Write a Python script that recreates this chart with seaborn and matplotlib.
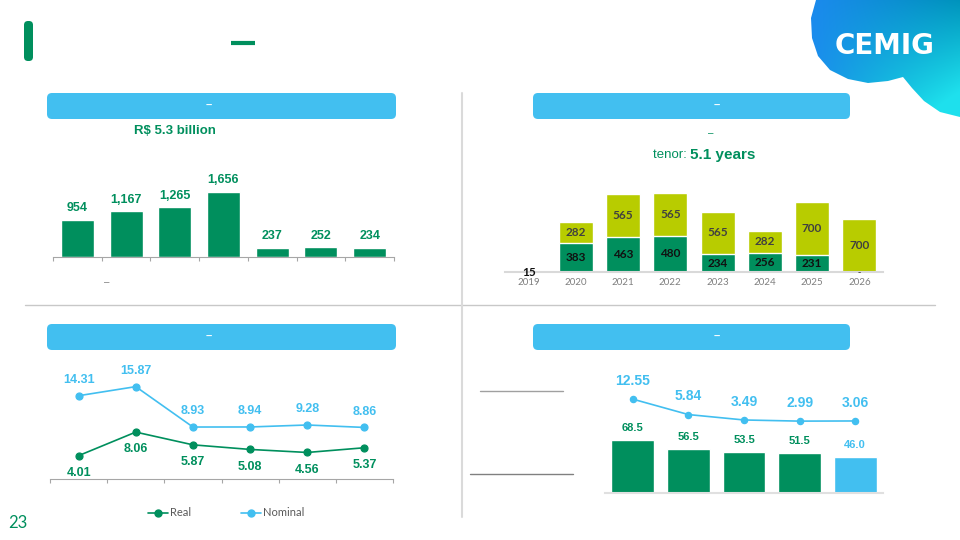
import numpy as np
import pandas as pd
import matplotlib
matplotlib.use("Agg")
import matplotlib.pyplot as plt
import seaborn as sns
from matplotlib.patches import FancyBboxPatch, Polygon
from matplotlib.lines import Line2D

# ---- data ----
# top-left: bars (category names are not shown in the slide)
tl_cats = ["2016", "2017", "2018", "2019", "2020", "2021", "2022"]
tl_vals = [954, 1167, 1265, 1656, 237, 252, 234]

# top-right: amortization schedule, stacked
tr_years = ["2019", "2020", "2021", "2022", "2023", "2024", "2025", "2026"]
tr_green = [15, 383, 463, 480, 234, 256, 231, 0]
tr_yellow = [0, 282, 565, 565, 565, 282, 700, 700]

# bottom-left: cost of debt, real vs nominal
bl_periods = ["2017", "2018", "2019", "2020", "2021", "2022"]
bl_real = [4.01, 8.06, 5.87, 5.08, 4.56, 5.37]
bl_nominal = [14.31, 15.87, 8.93, 8.94, 9.28, 8.86]

# bottom-right: bars + line on second axis
br_cats = ["2018", "2019", "2020", "2021", "2022"]
br_bars = [68.5, 56.5, 53.5, 51.5, 46.0]
br_line = [12.55, 5.84, 3.49, 2.99, 3.06]

GREEN = "#008F5D"
YELLOW = "#B8CC00"
BLUE = "#42BFF0"
GRAY = "#A6A6A6"

sns.set_style("white")
plt.rcParams["font.family"] = ["Liberation Sans", "DejaVu Sans"]

W, H = 960, 540
fig = plt.figure(figsize=(9.6, 5.4), dpi=100, facecolor="white")


def px_axes(x0, y0, x1, y1):
    ax = fig.add_axes([x0 / W, 1 - y1 / H, (x1 - x0) / W, (y1 - y0) / H])
    ax.set_facecolor("none")
    return ax


# ---- background / slide decorations ----
bg = fig.add_axes([0, 0, 1, 1])
bg.set_xlim(0, W)
bg.set_ylim(H, 0)
bg.axis("off")

# title marker and dash
bg.add_patch(FancyBboxPatch((24, 21), 9, 40, boxstyle="round,pad=0,rounding_size=4",
                            fc=GREEN, ec="none"))
bg.plot([231, 255], [43, 43], color=GREEN, lw=3, solid_capstyle="butt")

# logo blob with gradient
blob = [(816, 0), (811, 18), (812, 38), (818, 56), (830, 70), (848, 79), (868, 83),
        (888, 81), (903, 77), (912, 88), (924, 101), (940, 112), (960, 117), (960, 0)]
poly = Polygon(blob, closed=True, fc="none", ec="none")
bg.add_patch(poly)
u = np.linspace(0, 1, 160)[None, :, None]
v = np.linspace(0, 1, 120)[:, None, None]
c_blue = np.array([0.11, 0.54, 0.94])
c_teal = np.array([0.0, 0.58, 0.74])
c_cyan = np.array([0.12, 0.88, 0.93])
top = c_blue * (1 - u) + c_teal * u
img = top * (1 - v * u * 1.3).clip(0, 1) + c_cyan * (v * u * 1.3).clip(0, 1)
im = bg.imshow(img.clip(0, 1), extent=(805, 960, 120, 0), aspect="auto", zorder=1)
im.set_clip_path(poly)
bg.set_xlim(0, W)
bg.set_ylim(H, 0)
bg.text(885, 46, "CEMIG", color="white", fontsize=20, fontweight="bold",
        ha="center", va="center", family="DejaVu Sans", zorder=3)

# section header bars
for x0, y0, x1 in [(47, 93, 396), (533, 93, 850), (47, 324, 396), (533, 324, 850)]:
    bg.add_patch(FancyBboxPatch((x0, y0), x1 - x0, 26, boxstyle="round,pad=0,rounding_size=5",
                                fc=BLUE, ec="none"))
    bg.text((x0 + x1) / 2 - 13 if x0 < 400 else (x0 + x1) / 2 + 25, y0 + 13, "–",
            color="white", fontsize=8, ha="center", va="center", fontweight="bold")

# separators
bg.plot([25, 935], [305, 305], color="#C8C8C8", lw=1)
bg.plot([462, 462], [93, 517], color="#DADADA", lw=1.5)

# extra texts
bg.text(175, 131, "R$ 5.3 billion", color=GREEN, fontsize=9.5, fontweight="bold",
        ha="center", va="center")
bg.text(107, 282, "–", color="#7F7F7F", fontsize=7, ha="center", va="center")
bg.text(711, 133, "–", color=GREEN, fontsize=7, ha="center", va="center")
bg.text(690, 155, "tenor: ", color=GREEN, fontsize=9.5, ha="right", va="center")
bg.text(690, 155, "5.1 years", color=GREEN, fontsize=11, fontweight="bold",
        ha="left", va="center")
bg.plot([480, 563], [391, 391], color="#A0A0A0", lw=1)
bg.plot([470, 573], [474, 474], color="#808080", lw=1)
bg.text(8, 523, "23", color=GREEN, fontsize=12, family="Lato", ha="left", va="center")

# ---- top-left bar chart ----
ax1 = px_axes(53, 160, 394, 257)
sns.barplot(x=tl_cats, y=tl_vals, color=GREEN, width=0.68, saturation=1, ax=ax1)
ax1.set_ylim(0, 1656 * 97 / 65)
ax1.set_xlim(-0.5, len(tl_cats) - 0.5)
for i, val in enumerate(tl_vals):
    ax1.annotate(f"{val:,}", (i, val), xytext=(0, 4), textcoords="offset points",
                 ha="center", va="bottom", color=GREEN, fontsize=9, fontweight="bold")
ax1.set_xticks(np.arange(-0.5, len(tl_cats), 1))
ax1.set_xticklabels([])
ax1.set_yticks([])
ax1.tick_params(axis="x", length=3, color=GRAY, bottom=True)
sns.despine(ax=ax1, left=True)
ax1.spines["bottom"].set_color(GRAY)

# ---- top-right stacked bars ----
ax2 = px_axes(505, 180, 883, 272)
tr_total = [g + y for g, y in zip(tr_green, tr_yellow)]
sns.barplot(x=tr_years, y=tr_total, color=YELLOW, width=0.72, saturation=1, ax=ax2)
sns.barplot(x=tr_years, y=tr_green, color=GREEN, width=0.72, saturation=1, ax=ax2)
ax2.set_ylim(0, 1045 * 92 / 79)
ax2.set_xlim(-0.5, len(tr_years) - 0.5)
for i, (g, y) in enumerate(zip(tr_green, tr_yellow)):
    if g >= 100:
        ax2.text(i, g / 2, f"{g}", ha="center", va="center", color="#111111",
                 fontsize=8.5, fontweight="bold", family="Lato")
    elif g > 0:
        ax2.text(i, 0, f"{g}", ha="center", va="center", color="#111111",
                 fontsize=8.5, fontweight="bold", family="Lato")
    else:
        ax2.text(i, 0, "-", ha="center", va="center", color="#333333", fontsize=7)
    if y > 0:
        ax2.text(i, g + y / 2, f"{y}", ha="center", va="center", color="#404040",
                 fontsize=8.5, fontweight="bold", family="Lato")
ax2.set_yticks([])
ax2.tick_params(axis="x", length=0, pad=4, labelsize=7, labelcolor="#7F7F7F")
for lab in ax2.get_xticklabels():
    lab.set_family("Lato")
sns.despine(ax=ax2, left=True)
ax2.spines["bottom"].set_color("#D9D9D9")
ax2.spines["bottom"].set_linewidth(1.5)

# ---- bottom-left line chart ----
ax3 = px_axes(50, 370, 393, 479)
sns.pointplot(x=bl_periods, y=bl_nominal, color=BLUE, markersize=5, linewidth=1.2, ax=ax3)
sns.pointplot(x=bl_periods, y=bl_real, color=GREEN, markersize=5, linewidth=1.2, ax=ax3)
ax3.set_ylim(0, 109 / 5.82)
ax3.set_xlim(-0.5, len(bl_periods) - 0.5)
for i, (r, n) in enumerate(zip(bl_real, bl_nominal)):
    ax3.annotate(f"{n:.2f}", (i, n), xytext=(0, 7), textcoords="offset points",
                 ha="center", va="bottom", color=BLUE, fontsize=9, fontweight="bold")
    ax3.annotate(f"{r:.2f}", (i, r), xytext=(0, -8), textcoords="offset points",
                 ha="center", va="top", color=GREEN, fontsize=9, fontweight="bold")
ax3.set_xticks(np.arange(-0.5, len(bl_periods), 1))
ax3.set_xticklabels([])
ax3.set_yticks([])
ax3.set_ylabel("")
ax3.tick_params(axis="x", length=3, color=GRAY, bottom=True)
sns.despine(ax=ax3, left=True)
ax3.spines["bottom"].set_color(GRAY)
handles = [Line2D([], [], color=GREEN, marker="o", markersize=5, lw=1.2),
           Line2D([], [], color=BLUE, marker="o", markersize=5, lw=1.2)]
fig.legend(handles, ["Real", "Nominal"], loc="center", bbox_to_anchor=(226 / W, 1 - 513 / H),
           ncol=2, frameon=False, handlelength=1.8, handletextpad=0.2, columnspacing=4.5,
           prop={"family": "Lato", "size": 8}, labelcolor="#595959")

# ---- bottom-right bars + line ----
ax4 = px_axes(605, 380, 883, 493)
br_colors = [GREEN] * (len(br_cats) - 1) + [BLUE]
sns.barplot(x=br_cats, y=br_bars, hue=br_cats, palette=br_colors, width=0.77,
            saturation=1, legend=False, ax=ax4)
ax4.set_ylim(0, 68.5 * 113 / 53)
ax4.set_xlim(-0.5, len(br_cats) - 0.5)
for i, val in enumerate(br_bars):
    ax4.annotate(f"{val:.1f}", (i, val), xytext=(0, 5), textcoords="offset points",
                 ha="center", va="bottom", color=br_colors[i], fontsize=8, fontweight="bold")
ax4.set_xticks([])
ax4.set_yticks([])
sns.despine(ax=ax4, left=True)
ax4.spines["bottom"].set_color("#E0E0E0")
ax4.spines["bottom"].set_linewidth(1.5)

ax5 = ax4.twinx()
ax5.set_facecolor("none")
sns.pointplot(x=br_cats, y=br_line, color=BLUE, markersize=4.5, linewidth=1.2, ax=ax5)
ax5.set_ylim(-65 / 2.3, 48 / 2.3)
ax5.set_xlim(-0.5, len(br_cats) - 0.5)
for i, val in enumerate(br_line):
    ax5.annotate(f"{val:.2f}", (i, val), xytext=(0, 8), textcoords="offset points",
                 ha="center", va="bottom", color=BLUE, fontsize=10, fontweight="bold")
ax5.set_yticks([])
ax5.set_ylabel("")
ax5.set_xticks([])
for s in ax5.spines.values():
    s.set_visible(False)

fig.savefig("out.png", dpi=100, facecolor="white")
